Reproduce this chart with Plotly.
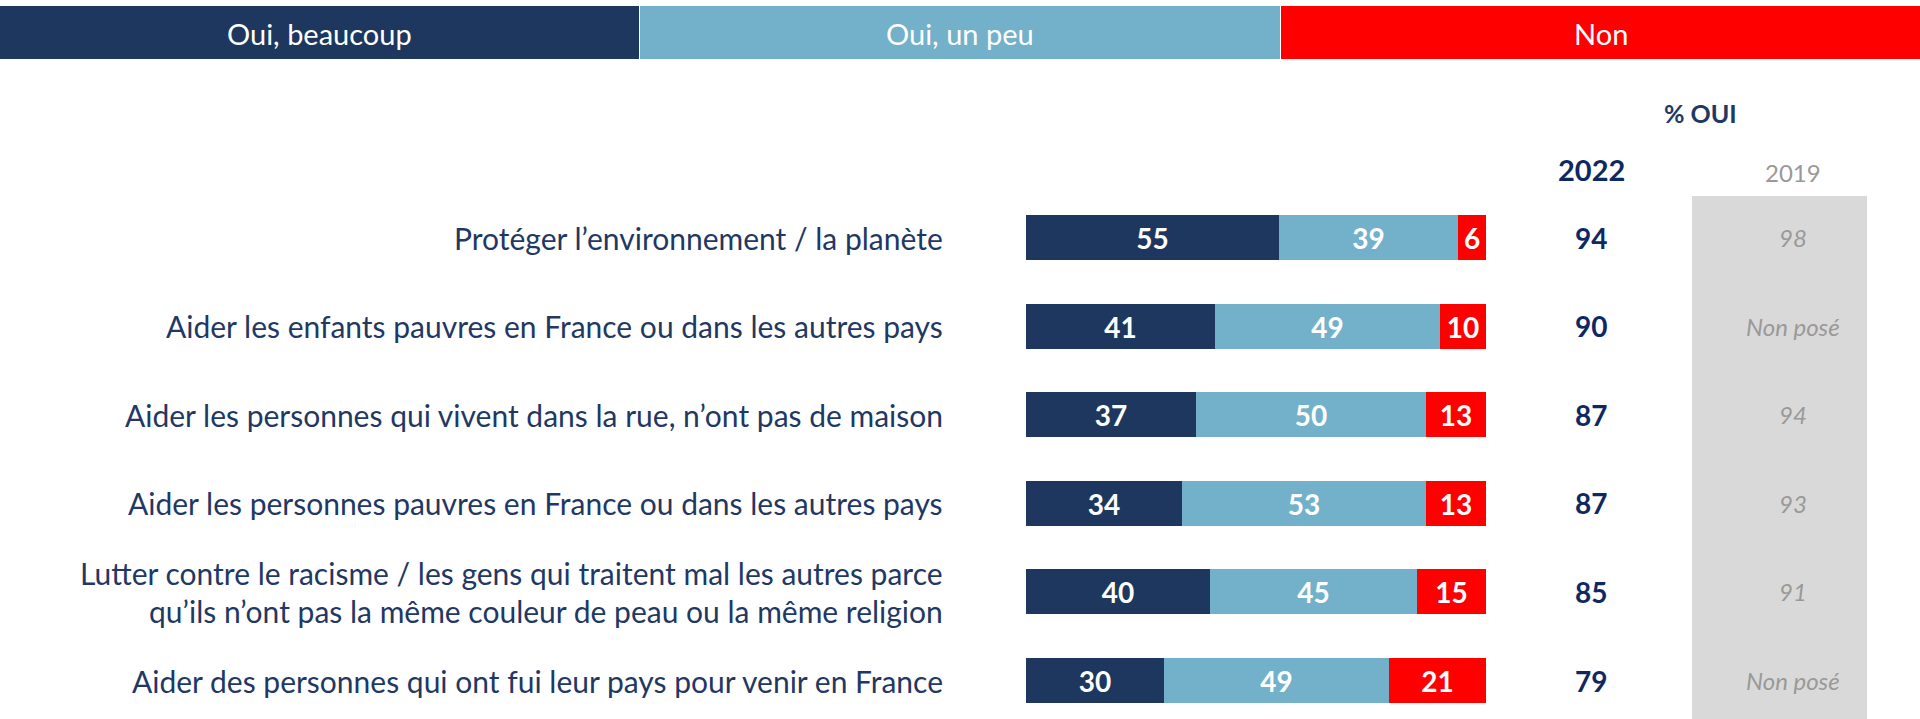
import plotly.graph_objects as go

# Survey items (top to bottom) and answer shares in %
items = [
    "Protéger l’environnement / la planète",
    "Aider les enfants pauvres en France ou dans les autres pays",
    "Aider les personnes qui vivent dans la rue, n’ont pas de maison",
    "Aider les personnes pauvres en France ou dans les autres pays",
    "Lutter contre le racisme / les gens qui traitent mal les autres parce<br>qu’ils n’ont pas la même couleur de peau ou la même religion",
    "Aider des personnes qui ont fui leur pays pour venir en France",
]
oui_beaucoup = [55, 41, 37, 34, 40, 30]
oui_un_peu = [39, 49, 50, 53, 45, 49]
non = [6, 10, 13, 13, 15, 21]
total_oui_2022 = [94, 90, 87, 87, 85, 79]
total_oui_2019 = ["98", "Non posé", "94", "93", "91", "Non posé"]

series_names = ["Oui, beaucoup", "Oui, un peu", "Non"]
series_values = [oui_beaucoup, oui_un_peu, non]
series_colors = ["#1d375e", "#72b1c9", "#ff0000"]

FONT = "Lato"
NAVY_TEXT = "#1f3864"
TOTAL_TEXT = "#0f2862"
GREY_TEXT = "#999999"

W, H = 1920, 719
rows = list(range(len(items)))

fig = go.Figure()
for name, vals, color in zip(series_names, series_values, series_colors):
    fig.add_trace(go.Bar(
        y=rows, x=vals, name=name, orientation="h",
        marker=dict(color=color, line=dict(width=0)),
        width=0.508,
        text=[str(v) for v in vals],
        textposition="inside", insidetextanchor="middle",
        constraintext="none",
        textfont=dict(family=FONT, size=28, color="white", weight="bold"),
        hoverinfo="skip",
    ))

shapes = []
annotations = []

# Legend band across the top
band_x = [(0, 639), (640, 1280), (1281, 1920)]
for (x0, x1), name, color in zip(band_x, series_names, series_colors):
    shapes.append(dict(type="rect", xref="paper", yref="paper",
                       x0=x0 / W, x1=x1 / W, y0=1 - 59 / H, y1=1 - 6 / H,
                       fillcolor=color, line=dict(width=0), layer="below"))
    annotations.append(dict(xref="paper", yref="paper", x=(x0 + x1) / 2 / W,
                            y=1 - 33 / H, text=name, showarrow=False,
                            xanchor="center", yanchor="middle",
                            font=dict(family=FONT, size=29, color="white")))

# Grey panel behind the 2019 column
shapes.append(dict(type="rect", xref="paper", yref="paper",
                   x0=1692 / W, x1=1867 / W, y0=0, y1=1 - 196 / H,
                   fillcolor="#d9d9d9", line=dict(width=0), layer="below"))

# Column headers
annotations.append(dict(xref="paper", yref="paper", x=1700 / W, y=1 - 113 / H,
                        text="% OUI", showarrow=False, xanchor="center", yanchor="middle",
                        font=dict(family=FONT, size=25, color=NAVY_TEXT, weight="bold")))
annotations.append(dict(xref="paper", yref="paper", x=1591 / W, y=1 - 169 / H,
                        text="2022", showarrow=False, xanchor="center", yanchor="middle",
                        font=dict(family=FONT, size=29, color=TOTAL_TEXT, weight="bold")))
annotations.append(dict(xref="paper", yref="paper", x=1793 / W, y=1 - 172 / H,
                        text="2019", showarrow=False, xanchor="center", yanchor="middle",
                        font=dict(family=FONT, size=24, color=GREY_TEXT)))

for i, label in enumerate(items):
    lines = label.split("<br>")
    n = len(lines)
    for k, line in enumerate(lines):
        annotations.append(dict(xref="paper", yref="y", x=945 / W, y=i,
                                yshift=(n - 1) / 2 * 38 - k * 38,
                                text=line, showarrow=False,
                                xanchor="right", yanchor="middle",
                                font=dict(family=FONT, size=30, color=NAVY_TEXT)))
    annotations.append(dict(xref="paper", yref="y", x=1591 / W, y=i,
                            text=str(total_oui_2022[i]), showarrow=False,
                            xanchor="center", yanchor="middle",
                            font=dict(family=FONT, size=28, color=TOTAL_TEXT, weight="bold")))
    annotations.append(dict(xref="paper", yref="y", x=1793 / W, y=i,
                            text=total_oui_2019[i], showarrow=False,
                            xanchor="center", yanchor="middle",
                            font=dict(family=FONT, size=24, color=GREY_TEXT,
                                      style="italic")))

row_gap = 88.6
top_center = 237.5
fig.update_layout(
    width=W, height=H,
    margin=dict(l=0, r=0, t=0, b=0),
    paper_bgcolor="white", plot_bgcolor="white",
    barmode="stack", bargap=0,
    showlegend=False,
    xaxis=dict(domain=[1026 / W, 1486 / W], range=[0, 100], visible=False,
               fixedrange=True),
    yaxis=dict(range=[(H - top_center) / row_gap, -top_center / row_gap],
               visible=False, fixedrange=True),
    shapes=shapes,
    annotations=annotations,
    font=dict(family=FONT),
)

fig.write_html("out.html")
